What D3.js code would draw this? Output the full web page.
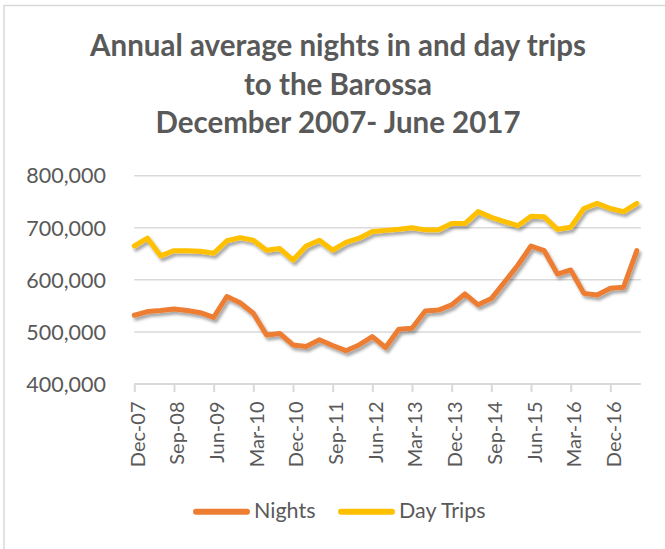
<!DOCTYPE html>
<html>
<head>
<meta charset="utf-8">
<script src="https://cdn.jsdelivr.net/npm/d3@7"></script>
<style>
  body { margin: 0; background: #fff; }
  svg { display: block; }
</style>
</head>
<body>
<svg width="665" height="549"></svg>
<script>
var width = 665, height = 549;

// quarterly categories, Dec-07 .. Jun-17
var categories = [
  "Dec-07","Mar-08","Jun-08","Sep-08","Dec-08","Mar-09","Jun-09","Sep-09","Dec-09","Mar-10",
  "Jun-10","Sep-10","Dec-10","Mar-11","Jun-11","Sep-11","Dec-11","Mar-12","Jun-12","Sep-12",
  "Dec-12","Mar-13","Jun-13","Sep-13","Dec-13","Mar-14","Jun-14","Sep-14","Dec-14","Mar-15",
  "Jun-15","Sep-15","Dec-15","Mar-16","Jun-16","Sep-16","Dec-16","Mar-17","Jun-17"
];

var nights = [
  532000, 539000, 541000, 544000, 541000, 537000, 528000, 568000, 556000, 536000,
  494000, 497000, 475000, 472000, 485000, 474000, 464000, 475000, 491000, 470000,
  505000, 507000, 540000, 542000, 552000, 573000, 552000, 564000, 596000, 628000,
  665000, 656000, 611000, 619000, 574000, 571000, 584000, 586000, 656000
];

var dayTrips = [
  665000, 680000, 646000, 656000, 656000, 655000, 651000, 675000, 681000, 676000,
  657000, 660000, 638000, 665000, 676000, 657000, 672000, 680000, 693000, 695000,
  697000, 700000, 696000, 696000, 708000, 708000, 731000, 720000, 712000, 704000,
  722000, 721000, 697000, 701000, 737000, 747000, 737000, 731000, 747000
];

var yTicks = [400000, 500000, 600000, 700000, 800000];
var titleLines = ["Annual average nights in and day trips", "to the Barossa", "December 2007- June 2017"];

var series = [
  {name: "Nights", values: nights, color: "#ED7D31"},
  {name: "Day Trips", values: dayTrips, color: "#FFC000"}
];

var svg = d3.select("svg");
var textColor = "#595959";
var gridColor = "#D9D9D9";
var font = "Lato, 'Open Sans', sans-serif";

// outer chart border
svg.append("rect")
    .attr("x", 4)
    .attr("y", 5.5)
    .attr("width", 700)
    .attr("height", 600)
    .attr("fill", "white")
    .attr("stroke", gridColor)
    .attr("stroke-width", 1.5);

var defs = svg.append("defs");
var shadow = defs.append("filter")
    .attr("id", "shadow")
    .attr("x", "-10%").attr("y", "-20%")
    .attr("width", "130%").attr("height", "150%");
shadow.append("feDropShadow")
    .attr("dx", 2)
    .attr("dy", 3)
    .attr("stdDeviation", 1.8)
    .attr("flood-color", "#000")
    .attr("flood-opacity", 0.35);

// title
svg.append("g")
    .selectAll("text")
    .data(titleLines)
    .enter()
    .append("text")
    .attr("x", 338)
    .attr("y", (d, i) => 56 + i * 38.5)
    .attr("text-anchor", "middle")
    .attr("font-family", font)
    .attr("font-weight", "bold")
    .attr("font-size", "29.5px")
    .attr("fill", textColor)
    .text(d => d);

var x = d3.scaleLinear()
    .domain([0, categories.length - 1])
    .range([134.3, 636.8]);

var y = d3.scaleLinear()
    .domain([400000, 800000])
    .range([384, 175.7]);

// gridlines
svg.append("g")
    .selectAll("line")
    .data(yTicks.slice(1))
    .enter()
    .append("line")
    .attr("x1", x.range()[0])
    .attr("x2", x.range()[1] + 4)
    .attr("y1", d => y(d))
    .attr("y2", d => y(d))
    .attr("stroke", gridColor)
    .attr("stroke-width", 1.5);

// y axis labels
svg.append("g")
    .selectAll("text")
    .data(yTicks)
    .enter()
    .append("text")
    .attr("x", 106)
    .attr("y", d => y(d))
    .attr("dy", "0.36em")
    .attr("text-anchor", "end")
    .attr("font-family", font)
    .attr("font-size", "21.5px")
    .attr("fill", textColor)
    .text(d => d3.format(",")(d));

// x axis
var xAxis = d3.axisBottom(x)
    .tickValues(d3.range(0, categories.length, 3))
    .tickFormat(i => categories[i])
    .tickSize(8)
    .tickSizeOuter(0);

var gx = svg.append("g")
    .attr("transform", "translate(0," + y(400000) + ")")
    .call(xAxis);

gx.select(".domain")
    .attr("d", "M" + x.range()[0] + ",0H" + (x.range()[1] + 4))
    .attr("stroke", gridColor)
    .attr("stroke-width", 2.2);
gx.selectAll(".tick line")
    .attr("stroke", gridColor)
    .attr("stroke-width", 2);
gx.selectAll(".tick text")
    .attr("transform", "rotate(-90)")
    .attr("x", -17.5)
    .attr("y", 0)
    .attr("dy", "0.5em")
    .attr("text-anchor", "end")
    .attr("font-family", font)
    .attr("font-size", "20px")
    .attr("fill", textColor);

// lines
var line = d3.line()
    .x((d, i) => x(i))
    .y(d => y(d));

svg.append("g")
    .attr("filter", "url(#shadow)")
    .selectAll("path")
    .data(series)
    .enter()
    .append("path")
    .attr("d", d => line(d.values))
    .attr("fill", "none")
    .attr("stroke", d => d.color)
    .attr("stroke-width", 5)
    .attr("stroke-linejoin", "round")
    .attr("stroke-linecap", "round");

// legend
var legendX = [196, 341];
var legend = svg.append("g")
    .selectAll("g")
    .data(series)
    .enter()
    .append("g")
    .attr("transform", (d, i) => "translate(" + legendX[i] + ",511.7)");

legend.append("line")
    .attr("x1", 0)
    .attr("x2", 51)
    .attr("stroke", d => d.color)
    .attr("stroke-width", 6)
    .attr("stroke-linecap", "round");

legend.append("text")
    .attr("x", 58)
    .attr("y", 6.5)
    .attr("font-family", font)
    .attr("font-size", "21.5px")
    .attr("fill", textColor)
    .text(d => d.name);
</script>
</body>
</html>
